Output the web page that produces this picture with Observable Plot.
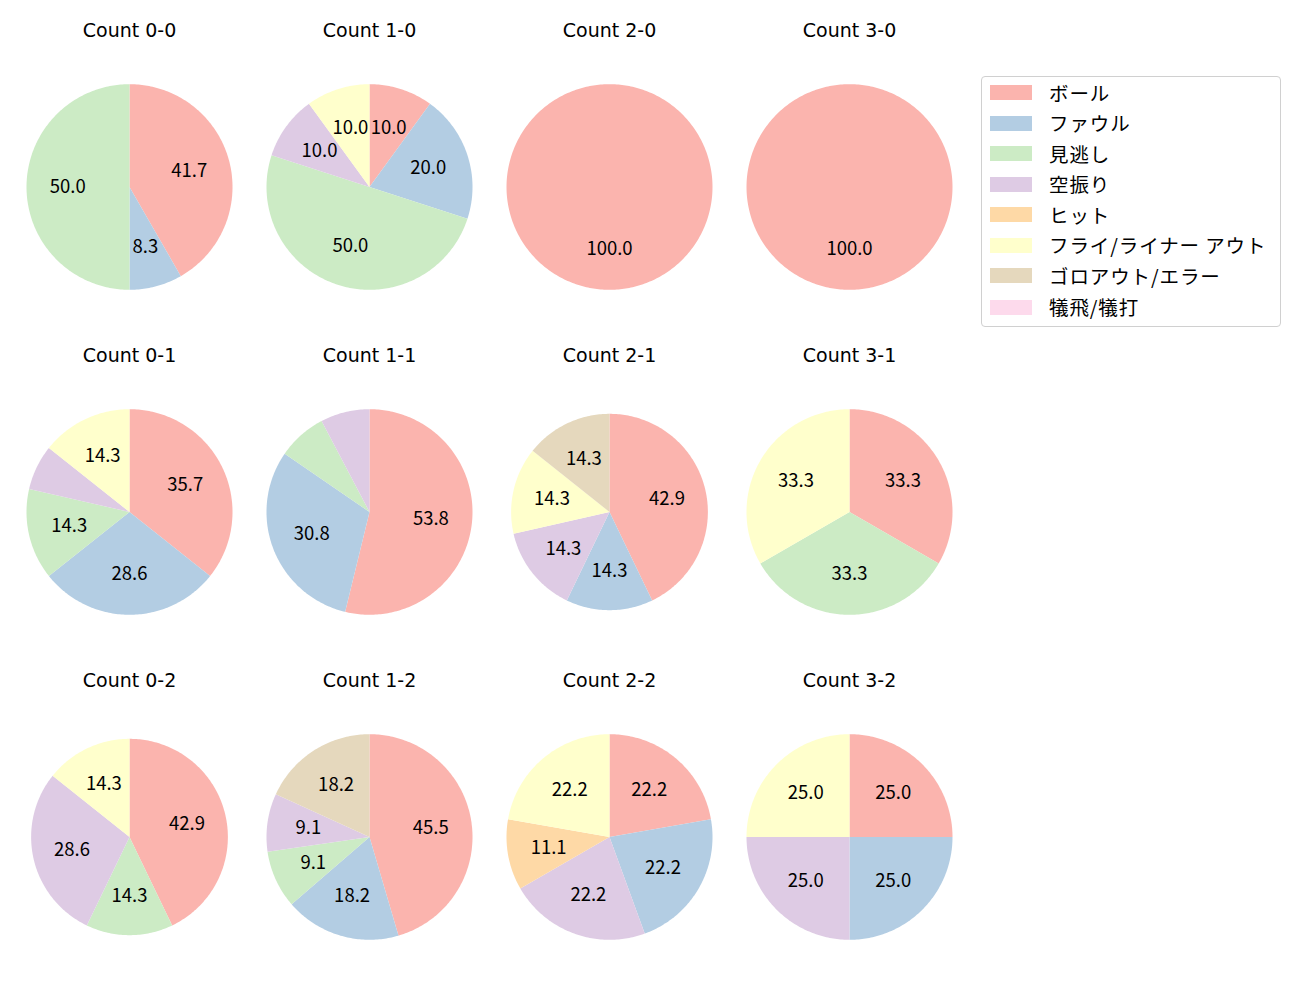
<!DOCTYPE html>
<html>
<head>
<meta charset="utf-8">
<script src="https://cdn.jsdelivr.net/npm/d3@7"></script>
<script src="https://cdn.jsdelivr.net/npm/@observablehq/plot@0.6"></script>
<style>
  html, body { margin: 0; padding: 0; background: #fff; }
  #wrap { position: relative; width: 1300px; height: 1000px; font-family: "Noto Sans CJK JP", "Noto Sans", sans-serif; }
  #chart { position: absolute; left: 0; top: 0; }
  #legend { position: absolute; left: 981px; top: 76px; width: 298px; height: 249px; border: 1px solid #d0d0d0; border-radius: 4px; background: #fff; }
  .item { position: absolute; left: 0; height: 20px; display: flex; align-items: center; }
  .sw { width: 42px; height: 15px; margin-left: 8px; }
  .lab { margin-left: 17px; font-size: 19.5px; color: #000; white-space: pre; line-height: 20px; letter-spacing: 0.9px; }
</style>
</head>
<body>
<div id="wrap">
  <div id="chart"></div>
  <div id="legend"></div>
</div>
<script>
// ---- data ----
const categories = ["ボール", "ファウル", "見逃し", "空振り", "ヒット", "フライ/ライナー アウト", "ゴロアウト/エラー", "犠飛/犠打"];
const palette = ["#fbb4ae", "#b3cde3", "#ccebc5", "#decbe4", "#fed9a6", "#ffffcc", "#e5d8bd", "#fddaec"];
const countLabels = ["Count 0-0", "Count 1-0", "Count 2-0", "Count 3-0",
                     "Count 0-1", "Count 1-1", "Count 2-1", "Count 3-1",
                     "Count 0-2", "Count 1-2", "Count 2-2", "Count 3-2"];
// percentage shares per category (order of categories)
const count00 = [41.7, 8.3, 50.0, 0, 0, 0, 0, 0];
const count10 = [10.0, 20.0, 50.0, 10.0, 0, 10.0, 0, 0];
const count20 = [100.0, 0, 0, 0, 0, 0, 0, 0];
const count30 = [100.0, 0, 0, 0, 0, 0, 0, 0];
const count01 = [35.7, 28.6, 14.3, 7.1, 0, 14.3, 0, 0];
const count11 = [53.8, 30.8, 7.7, 7.7, 0, 0, 0, 0];
const count21 = [42.9, 14.3, 0, 14.3, 0, 14.3, 14.3, 0];
const count31 = [33.3, 0, 33.3, 0, 0, 33.3, 0, 0];
const count02 = [42.9, 0, 14.3, 28.6, 0, 14.3, 0, 0];
const count12 = [45.5, 18.2, 9.1, 9.1, 0, 0, 18.2, 0];
const count22 = [22.2, 22.2, 0, 22.2, 11.1, 22.2, 0, 0];
const count32 = [25.0, 25.0, 0, 25.0, 0, 25.0, 0, 0];
const panelValues = [count00, count10, count20, count30,
                     count01, count11, count21, count31,
                     count02, count12, count22, count32];
const labelThreshold = 8; // smaller shares are drawn without a label

// ---- layout (not data) ----
const pieScale = [1, 1, 1, 1, 1, 1, 0.955, 1, 0.955, 1, 1, 1];

// ---- build wedge geometry ----
const wedgePts = [];
const labels = [];
const titles = [];
panelValues.forEach((vals, p) => {
  const col = p % 4, row = Math.floor(p / 4);
  const r = pieScale[p];
  const total = d3.sum(vals);
  titles.push({col, row, text: countLabels[p]});
  let acc = 0;
  vals.forEach((v, i) => {
    if (v <= 0) return;
    const a0 = acc / total * 2 * Math.PI;
    acc += v;
    const a1 = acc / total * 2 * Math.PI;
    const id = p + "-" + i;
    const cat = categories[i];
    wedgePts.push({id, cat, col, row, x: 0, y: 0});
    const n = Math.max(2, Math.ceil((a1 - a0) / (Math.PI / 180)));
    for (let k = 0; k <= n; k++) {
      const a = a0 + (a1 - a0) * k / n;
      wedgePts.push({id, cat, col, row, x: r * Math.sin(a), y: r * Math.cos(a)});
    }
    if (v >= labelThreshold) {
      const am = (a0 + a1) / 2;
      labels.push({col, row, x: 0.6 * r * Math.sin(am), y: 0.6 * r * Math.cos(am), text: v.toFixed(1)});
    }
  });
});

const unit = 103; // px per unit radius
const W = 969, H = 1000, mL = 9, mT = 23;
const bandW = (W - mL) / 4, bandH = (H - mT) / 3;
const xr = bandW / 2 / unit, yr = bandH / 2 / unit;

const chart = Plot.plot({
  width: W,
  height: H,
  marginLeft: mL,
  marginRight: 0,
  marginTop: mT,
  marginBottom: 0,
  style: {fontFamily: '"Noto Sans CJK JP", "Noto Sans", sans-serif', background: "white"},
  fx: {domain: [0, 1, 2, 3], padding: 0, axis: null},
  fy: {domain: [0, 1, 2], padding: 0, axis: null},
  x: {domain: [-xr, xr], axis: null},
  y: {domain: [-yr, yr], axis: null},
  color: {domain: categories, range: palette},
  marks: [
    Plot.line(wedgePts, {x: "x", y: "y", z: "id", fill: "cat", stroke: "none", fx: "col", fy: "row", curve: "linear-closed"}),
    Plot.text(labels, {x: "x", y: "y", text: "text", fx: "col", fy: "row", fontSize: 18.5, fill: "black"}),
    Plot.text(titles, {text: "text", fx: "col", fy: "row", frameAnchor: "top", lineAnchor: "middle", dy: 6, fontSize: 19, fill: "black",
      fontFamily: '"DejaVu Sans", sans-serif', letterSpacing: 0.7})
  ]
});
document.getElementById("chart").appendChild(chart);

// ---- legend ----
const legend = document.getElementById("legend");
const rowTops = [15.5, 46, 76.5, 107, 137.5, 168, 198.5, 230];
categories.forEach((c, i) => {
  const it = document.createElement("div");
  it.className = "item";
  it.style.top = (rowTops[i] - 10) + "px";
  const sw = document.createElement("div");
  sw.className = "sw";
  sw.style.background = palette[i];
  const lb = document.createElement("span");
  lb.className = "lab";
  lb.textContent = c;
  it.appendChild(sw);
  it.appendChild(lb);
  legend.appendChild(it);
});
</script>
</body>
</html>
